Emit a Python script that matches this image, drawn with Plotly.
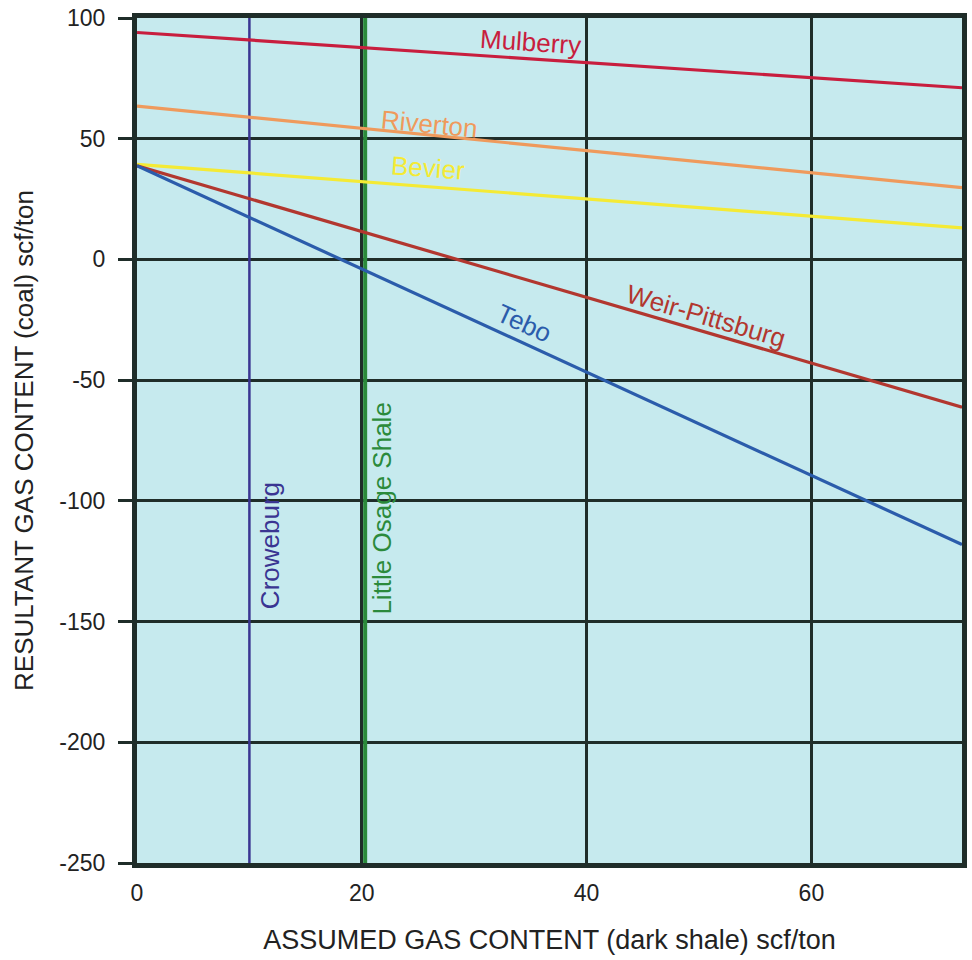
import plotly.graph_objects as go

# Assumed gas content of the dark shale (scf/ton): line end points
x_ends = [0, 73.4]

# Resultant coal gas content (scf/ton) at each end point
mulberry = [94.0, 71.1]
riverton = [63.5, 29.7]
bevier = [39.4, 13.1]
weir_pittsburg = [38.8, -61.2]
tebo = [38.8, -118.1]

# Vertical reference beds (assumed shale gas content, scf/ton)
croweburg_x = 10.0
little_osage_x = 20.3
y_span = [-250, 100]

x_ticks = [0, 20, 40, 60]
y_ticks = [100, 50, 0, -50, -100, -150, -200, -250]
y_tick_text = ["100", "50", "0", "-50", "-100", "-150", "-200", "-250"]

FONT = "Liberation Sans, Arial, Helvetica, sans-serif"
GRID = "#1f2d29"

series = [
    ("Mulberry", mulberry, "#c81e3e", 35.0, 89.9, 3.8),
    ("Riverton", riverton, "#ef9a5c", 26.0, 56.3, 5.6),
    ("Bevier", bevier, "#f4ea35", 25.9, 37.7, 4.4),
    ("Weir-Pittsburg", weir_pittsburg, "#b2372f", 50.6, -23.5, 16.2),
    ("Tebo", tebo, "#2b5cab", 34.4, -26.4, 24.5),
]

fig = go.Figure()

fig.add_trace(go.Scatter(x=[croweburg_x, croweburg_x], y=y_span, mode="lines",
                         line=dict(color="#3a3592", width=2.5), hoverinfo="skip"))
fig.add_trace(go.Scatter(x=[little_osage_x, little_osage_x], y=y_span, mode="lines",
                         line=dict(color="#2b8a3b", width=4), hoverinfo="skip"))

annotations = []
for name, vals, color, lx, ly, ang in series:
    fig.add_trace(go.Scatter(x=x_ends, y=vals, mode="lines", name=name,
                             line=dict(color=color, width=3.2), hoverinfo="skip"))
    annotations.append(dict(x=lx, y=ly, text=name, showarrow=False, textangle=ang,
                            xanchor="center", yanchor="middle",
                            font=dict(family=FONT, size=26, color=color)))

annotations.append(dict(x=11.8, y=-118.5, text="Croweburg", showarrow=False, textangle=-90,
                        xanchor="center", yanchor="middle",
                        font=dict(family=FONT, size=26, color="#3a3592")))
annotations.append(dict(x=21.8, y=-103.2, text="Little Osage Shale", showarrow=False, textangle=-90,
                        xanchor="center", yanchor="middle",
                        font=dict(family=FONT, size=26, color="#2b8a3b")))

fig.update_layout(
    width=972, height=960,
    margin=dict(l=137, r=5, t=18, b=97),
    paper_bgcolor="white",
    plot_bgcolor="#c6eaee",
    showlegend=False,
    font=dict(family=FONT, color="#222222"),
    annotations=annotations,
)

fig.update_xaxes(
    range=[0, 73.4], tickvals=x_ticks, ticks="", ticklabelstandoff=5,
    tickfont=dict(size=23, color="#222222"),
    showgrid=True, gridcolor=GRID, gridwidth=2.5, zeroline=False,
    showline=True, linecolor=GRID, linewidth=5, mirror=True,
    title=dict(text="ASSUMED GAS CONTENT (dark shale) scf/ton",
               font=dict(size=27, color="#222222"), standoff=27),
)
fig.update_yaxes(
    range=[-250, 100], tickvals=y_ticks, ticktext=y_tick_text,
    ticks="outside", ticklen=14, tickwidth=2.5,
    tickcolor=GRID, ticklabelstandoff=8,
    tickfont=dict(size=23, color="#222222"),
    showgrid=True, gridcolor=GRID, gridwidth=2.5, zeroline=False,
    showline=True, linecolor=GRID, linewidth=5, mirror=True,
    title=dict(text="RESULTANT GAS CONTENT (coal) scf/ton",
               font=dict(size=26, color="#222222"), standoff=20),
)

fig.write_html("out.html")
